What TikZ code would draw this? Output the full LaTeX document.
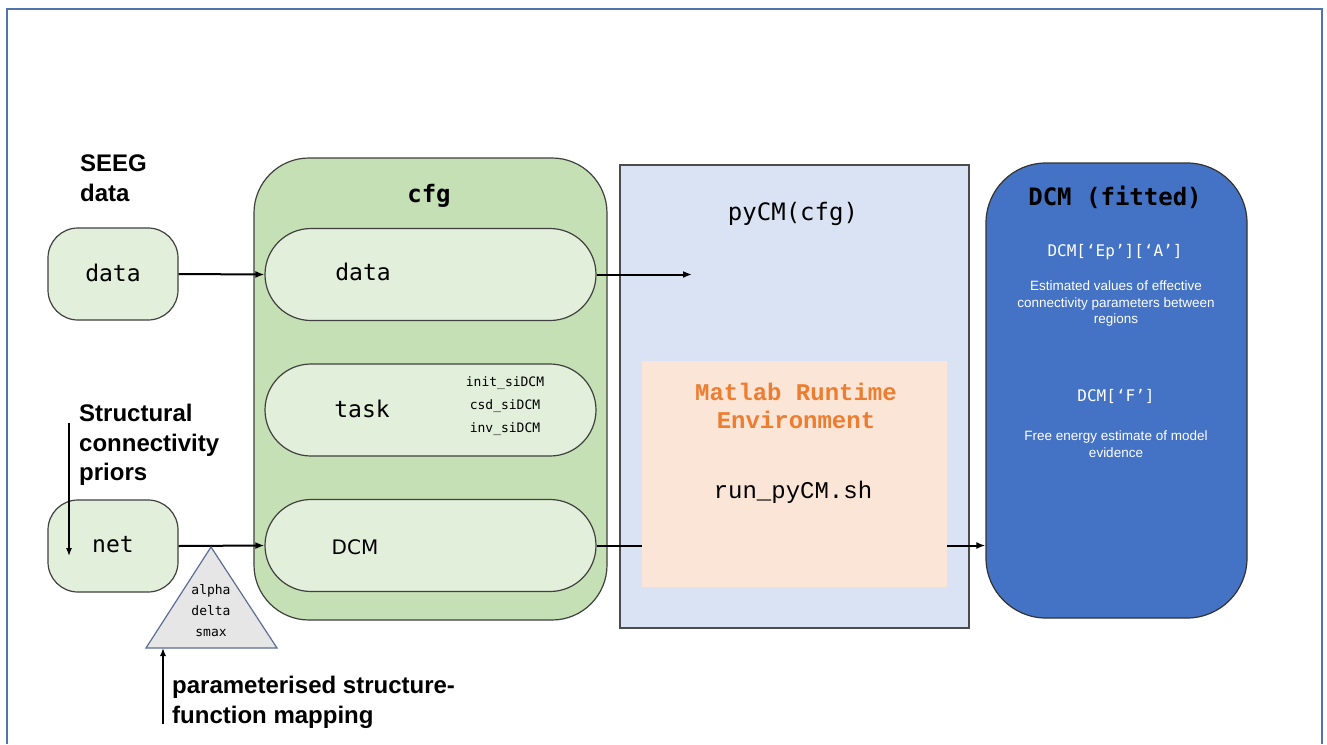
\documentclass[tikz,border=0pt]{standalone}
\usepackage{fontspec}
\setmainfont{Liberation Sans}
\newfontfamily\menlo{DejaVu Sans Mono}
\newfontfamily\courier{Liberation Mono}
\newfontfamily\dejasans{DejaVu Sans}
\usetikzlibrary{arrows.meta,positioning}

\definecolor{framebl}{HTML}{4F74AE}
\definecolor{cfggreen}{HTML}{C5E0B4}
\definecolor{pillgreen}{HTML}{E2EFDA}
\definecolor{pyblue}{HTML}{DAE3F3}
\definecolor{matpeach}{HTML}{FBE5D6}
\definecolor{matorange}{HTML}{ED7D31}
\definecolor{fitblue}{HTML}{4472C4}
\definecolor{trigray}{HTML}{E7E6E6}
\definecolor{triedge}{HTML}{5B6E96}

\tikzset{
  srcbox/.style={draw=black!75, line width=1.2pt, fill=pillgreen, rounded corners=30pt,
    minimum width=130pt, minimum height=92pt, inner sep=0pt},
  pill/.style={draw=black!75, line width=1.2pt, fill=pillgreen, rounded corners=46pt,
    minimum width=331pt, minimum height=92pt, inner sep=0pt},
  lbl/.style={font=\fontsize{24}{30}\selectfont\bfseries, align=left, inner sep=0pt},
  code/.style={font=\menlo\fontsize{23}{28}\selectfont, inner sep=0pt},
  smallcode/.style={font=\menlo\fontsize{13}{21}\selectfont, inner sep=0pt, align=center},
  note/.style={font=\fontsize{13.5}{16.5}\selectfont, text=white, align=center, inner sep=0pt},
  flow/.style={-{Latex[length=9pt,width=7pt]}, line width=2pt},
}

\begin{document}
\begin{tikzpicture}[x=1pt,y=-1pt]
  \useasboundingbox (0,0) rectangle (1327,744);
  \fill[white] (0,0) rectangle (1327,744);
  % page frame
  \draw[framebl, line width=2.2pt] (7,744) -- (7,9) -- (1322,9) -- (1322,744);

  % inputs
  \node[lbl, anchor=north west] (seeglbl) at (80,155) {SEEG\\data};
  \node[srcbox] (datasrc) at (113,274) {};
  \node[code] (datasrctxt) at (113,273) {data};
  \node[lbl, anchor=north west] (sclbl) at (79,404) {Structural\\[-0.5pt]connectivity\\[-0.5pt]priors};
  \node[srcbox] (netsrc) at (113,546) {};
  \node[code] (netsrctxt) at (113,545) {net};

  % cfg container
  \node[draw=black!75, line width=1.2pt, fill=cfggreen, rounded corners=55pt,
    minimum width=353pt, minimum height=462pt] (cfg) at (430.5,389) {};
  \node[font=\menlo\bfseries\fontsize{24}{28}\selectfont] (cfgtitle) at (429,196) {cfg};
  \node[pill] (datapill) at (430.5,274.5) {};
  \node[code] (datapilltxt) at (363,272) {data};
  \node[pill] (taskpill) at (430.5,410) {};
  \node[code] (taskpilltxt) at (362,409) {task};
  \node[smallcode] (taskfns) at (505,406.5) {init\_siDCM\\[2pt]csd\_siDCM\\[2pt]inv\_siDCM};
  \node[pill] (dcmpill) at (430.5,545.5) {};
  \node[font=\dejasans\fontsize{20}{24}\selectfont, inner sep=0pt] (dcmpilltxt) at (355,547) {DCM};

  % pyCM
  \node[draw=black!70, line width=1.4pt, fill=pyblue, minimum width=349pt,
    minimum height=463pt] (pycm) at (794.5,396.5) {};
  \node[code, font=\menlo\fontsize{24}{28}\selectfont] (pycmtitle) at (793,214) {pyCM(cfg)};
  \node[fill=matpeach, minimum width=305pt, minimum height=226pt] (mre) at (794.5,474) {};
  \node[font=\courier\bfseries\fontsize{24}{28}\selectfont, text=matorange, align=center,
    inner sep=0pt] (mretitle) at (796,406) {Matlab Runtime\\Environment};
  \node[font=\courier\fontsize{24}{28}\selectfont, inner sep=0pt] (mrescript) at (793,492) {run\_pyCM.sh};

  % fitted DCM
  \node[draw=black!80, line width=1.2pt, fill=fitblue, rounded corners=60pt,
    minimum width=261pt, minimum height=455pt] (fitted) at (1116.5,390.5) {};
  \node[font=\menlo\bfseries\fontsize{24}{28}\selectfont, inner sep=0pt] (fittedtitle) at (1115,197) {DCM (fitted)};
  \node[font=\menlo\fontsize{16}{20}\selectfont, text=white, inner sep=0pt] (epfield) at (1115,252) {DCM[‘Ep’][‘A’]};
  \node[note] (epnote) at (1116,304) {Estimated values of effective\\connectivity parameters between\\regions};
  \node[font=\menlo\fontsize{16}{20}\selectfont, text=white, inner sep=0pt] (ffield) at (1116,396) {DCM[‘F’]};
  \node[note] (fnote) at (1116,444) {Free energy estimate of model\\evidence};

  % connectors
  \coordinate (pyin) at (692,274.5);
  \draw[flow] (datasrc.east) -- (datapill.west);
  \draw[flow] (netsrc.east) -- (dcmpill.west);
  \draw[flow] (datapill.east) -- (pyin);
  \draw[line width=2pt] (dcmpill.east) -- (mre.west |- dcmpill.east);
  \draw[flow] (mre.east |- dcmpill.east) -- (fitted.west |- dcmpill.east);

  \coordinate (sctop) at (69,423);
  \coordinate (scend) at (69,556);
  \draw[-{Latex[length=8pt,width=6pt]}, line width=1.3pt] (sctop) -- (scend);

  % structure-function mapping
  \draw[triedge, line width=1.2pt, fill=trigray] (211,547) -- (277,648) -- (146,648) -- cycle;
  \node[smallcode] (triparams) at (211,611) {alpha\\delta\\smax};
  \coordinate (mapfoot) at (163,724);
  \coordinate (mapbase) at (163,648);
  \draw[-{Latex[length=8pt,width=6pt]}, line width=1.3pt] (mapfoot) -- (mapbase);
  \node[lbl, anchor=north west] (maplbl) at (172,676) {parameterised structure-\\function mapping};
\end{tikzpicture}
\end{document}
